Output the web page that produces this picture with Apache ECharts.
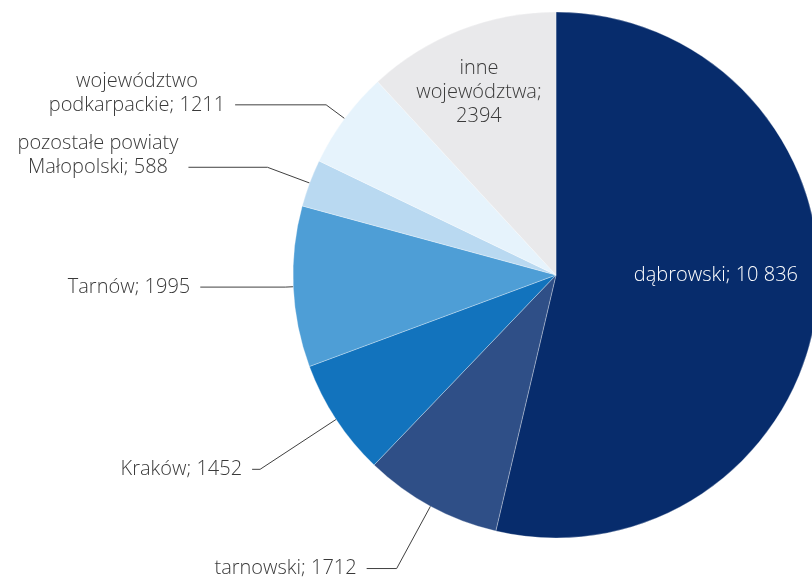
<!DOCTYPE html>
<html>
<head>
<meta charset="utf-8">
<script src="https://cdn.jsdelivr.net/npm/echarts@6/dist/echarts.min.js"></script>
<style>
html,body{margin:0;padding:0;background:#fff;}
#chart{width:812px;height:577px;}
</style>
</head>
<body>
<div id="chart"></div>
<script>
// ---- data ----
const categories = ['dąbrowski', 'tarnowski', 'Kraków', 'Tarnów', 'pozostałe powiaty Małopolski', 'województwo podkarpackie', 'inne województwa'];
const values = [10836, 1712, 1452, 1995, 588, 1211, 2394];
const labelNames = ['dąbrowski', 'tarnowski', 'Kraków', 'Tarnów', 'pozostałe powiaty\nMałopolski', 'województwo\npodkarpackie', 'inne\nwojewództwa;\n'];
const colors = ['#072c6c', '#2f4f87', '#1273bd', '#4e9ed6', '#b9d9f1', '#e6f3fc', '#e9e9eb'];

// ---- layout / style ----
const W = 812, H = 577;
const CX = 556, CY = 275, R = 263;
const LINE_H = 24;
const insideItems = {0: {fx: 0.608, fy: 0.0, color: '#ffffff'}, 6: {fx: -0.293, fy: -0.696, color: '#3a3a3a'}};
const lineLens = {1: [71, 30], 2: [91, 8], 3: [8, 85], 4: [45, 79], 5: [23, 91]};

function fmt(v) {
  if (v >= 10000) return String(v).replace(/\B(?=(\d{3})+(?!\d))/g, ' ');
  return String(v);
}
function labelText(i) {
  const n = labelNames[i];
  if (n.endsWith('\n')) return n + fmt(values[i]);
  return n + '; ' + fmt(values[i]);
}

const data = categories.map(function (c, i) {
  const item = {name: c, value: values[i], itemStyle: {color: colors[i]}};
  if (insideItems[i]) {
    item.label = {position: 'inside', color: insideItems[i].color};
    item.labelLine = {show: false};
  } else {
    item.labelLine = {length: lineLens[i][0], length2: lineLens[i][1]};
  }
  return item;
});

const chart = echarts.init(document.getElementById('chart'), null, {renderer: 'canvas'});
chart.setOption({
  backgroundColor: '#ffffff',
  animation: false,
  series: [{
    type: 'pie',
    center: [CX / W * 100 + '%', CY / H * 100 + '%'],
    radius: R,
    startAngle: 90,
    clockwise: true,
    avoidLabelOverlap: false,
    emphasis: {disabled: true},
    itemStyle: {borderColor: 'rgba(255,255,255,0.6)', borderWidth: 0.5},
    label: {
      show: true,
      position: 'outside',
      fontFamily: 'Open Sans',
      fontWeight: 300,
      fontSize: 20,
      lineHeight: LINE_H,
      color: '#3a3a3a',
      distanceToLabelLine: 10,
      formatter: function (p) { return labelText(p.dataIndex); }
    },
    labelLine: {
      show: true,
      smooth: false,
      lineStyle: {color: '#404040', width: 1}
    },
    labelLayout: function (p) {
      const i = p.dataIndex;
      const r = p.labelRect;
      if (insideItems[i]) {
        return {
          x: CX + insideItems[i].fx * R,
          y: CY + insideItems[i].fy * R,
          align: 'center',
          verticalAlign: 'middle'
        };
      }
      const pts = p.labelLinePoints;
      const nLines = labelText(i).split('\n').length;
      const anchorY = pts ? pts[pts.length - 1][1] : r.y + r.height / 2;
      return {
        x: r.x + r.width / 2,
        y: anchorY - (nLines - 1) * LINE_H / 2,
        align: 'center',
        verticalAlign: 'middle',
        labelLinePoints: pts
      };
    },
    data: data
  }]
});
</script>
</body>
</html>
